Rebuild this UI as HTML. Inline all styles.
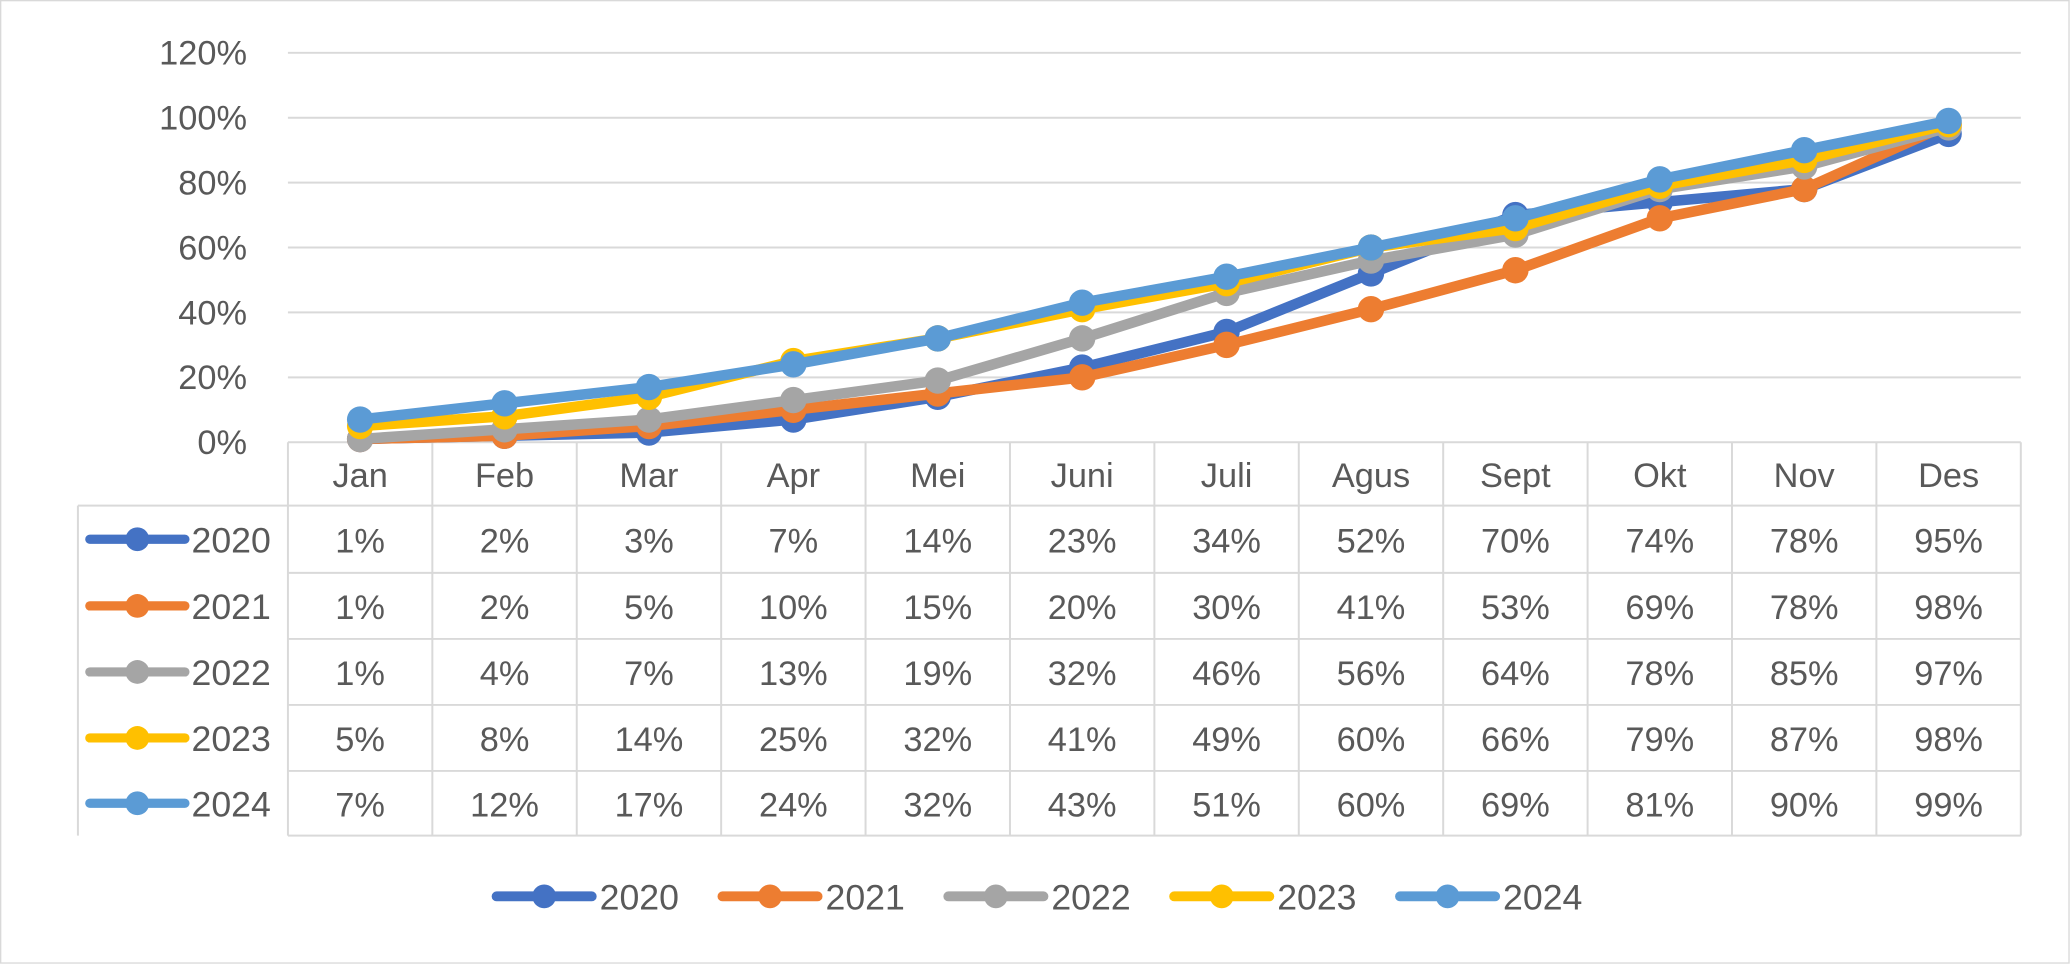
<!DOCTYPE html>
<html><head><meta charset="utf-8"><style>
html,body{margin:0;padding:0;background:#fff;}
svg{display:block;font-family:"Liberation Sans",Calibri,sans-serif;}
</style></head><body>
<svg id="c" width="2071" height="965" viewBox="0 0 1568 731" preserveAspectRatio="none" xmlns="http://www.w3.org/2000/svg">
<rect x="0.5" y="0.5" width="1566" height="729" fill="#fff" stroke="#d9d9d9"/>
</svg>
<script>
const s=document.getElementById('c');const NS='http://www.w3.org/2000/svg';
function el(t,a,txt){const e=document.createElementNS(NS,t);for(const k in a)e.setAttribute(k,a[k]);if(txt!==undefined)e.textContent=txt;s.appendChild(e);return e;}
const L=218,R=1530,Y0=335,Y120=40,cw=(R-L)/12,FS=26;
const months=["Jan","Feb","Mar","Apr","Mei","Juni","Juli","Agus","Sept","Okt","Nov","Des"];
const series=[
["2020","#4472C4",[1,2,3,7,14,23,34,52,70,74,78,95]],
["2021","#ED7D31",[1,2,5,10,15,20,30,41,53,69,78,98]],
["2022","#A5A5A5",[1,4,7,13,19,32,46,56,64,78,85,97]],
["2023","#FFC000",[5,8,14,25,32,41,49,60,66,79,87,98]],
["2024","#5B9BD5",[7,12,17,24,32,43,51,60,69,81,90,99]]];
const yv=v=>Y0-v*(Y0-Y120)/120;
for(let i=0;i<=6;i++){const y=yv(i*20);el('line',{x1:L,x2:R,y1:y,y2:y,stroke:'#d9d9d9','stroke-width':1.5});
el('text',{x:187,y:y+9,'text-anchor':'end','font-size':FS,fill:'#595959'},(i*20)+'%');}
const rows=[335,383,434,484,534,584,633];
for(let i=1;i<rows.length;i++)el('line',{x1:i==1?59:L,x2:R,y1:rows[i],y2:rows[i],stroke:'#d9d9d9','stroke-width':1.5});
el('line',{x1:59,x2:59,y1:383,y2:633,stroke:'#d9d9d9','stroke-width':1.5});
for(let j=0;j<=12;j++){const x=L+j*cw;el('line',{x1:x,x2:x,y1:335,y2:633,stroke:'#d9d9d9','stroke-width':1.5});}
months.forEach((m,j)=>el('text',{x:L+cw*(j+.5),y:369,'text-anchor':'middle','font-size':FS,fill:'#595959'},m));
series.forEach((sr,i)=>{const yc=(rows[i+1]+rows[i+2])/2;
el('line',{x1:68,x2:140,y1:yc,y2:yc,stroke:sr[1],'stroke-width':7,'stroke-linecap':'round'});
el('circle',{cx:104,cy:yc,r:9,fill:sr[1]});
el('text',{x:145,y:yc+10,'font-size':27,fill:'#595959'},sr[0]);
sr[2].forEach((v,j)=>el('text',{x:L+cw*(j+.5),y:yc+10,'text-anchor':'middle','font-size':FS,fill:'#595959'},v+'%'));});
series.forEach(sr=>{const pts=sr[2].map((v,j)=>(L+cw*(j+.5))+','+yv(v)).join(' ');
el('polyline',{points:pts,fill:'none',stroke:sr[1],'stroke-width':8,'stroke-linejoin':'round','stroke-linecap':'round'});
sr[2].forEach((v,j)=>el('circle',{cx:L+cw*(j+.5),cy:yv(v),r:10,fill:sr[1]}));});
series.forEach((sr,i)=>{const x=376+i*171;
el('line',{x1:x,x2:x+72,y1:679,y2:679,stroke:sr[1],'stroke-width':7.5,'stroke-linecap':'round'});
el('circle',{cx:x+36,cy:679,r:9,fill:sr[1]});
el('text',{x:x+78,y:689,'font-size':27,fill:'#595959'},sr[0]);});
</script>
</body></html>
